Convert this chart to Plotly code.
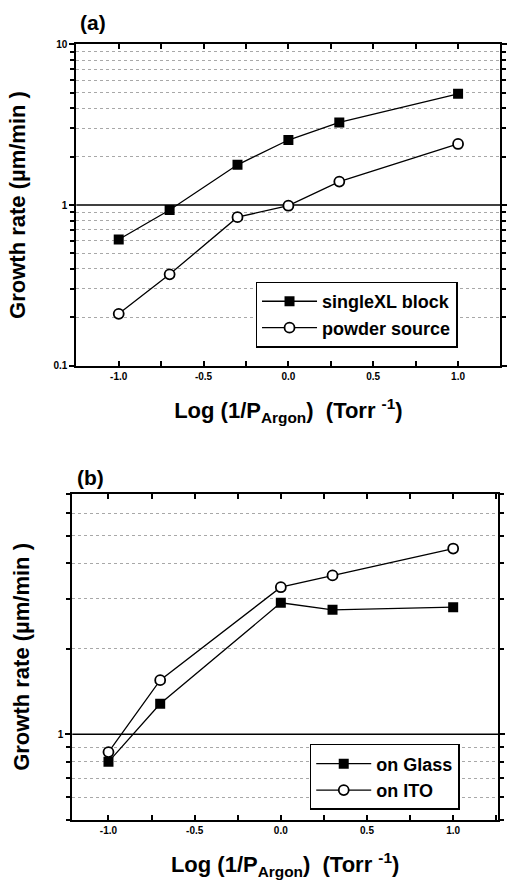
import plotly.graph_objects as go

# ---- data ----
x_a = [-1.0, -0.7, -0.3, 0.0, 0.3, 1.0]
single_xl = [0.61, 0.93, 1.78, 2.54, 3.27, 4.93]
powder = [0.21, 0.37, 0.84, 0.99, 1.40, 2.40]

x_b = [-1.0, -0.7, 0.0, 0.3, 1.0]
on_glass = [0.80, 1.28, 2.90, 2.74, 2.80]
on_ito = [0.866, 1.55, 3.29, 3.62, 4.50]

x_tickvals = [-1.0, -0.5, 0.0, 0.5, 1.0]
x_ticktext = ["-1.0", "-0.5", "0.0", "0.5", "1.0"]
x_minorvals = [-1.25, -0.75, -0.25, 0.25, 0.75, 1.25]

ya_tickvals = [0.1, 1, 10]
ya_ticktext = ["0.1", "1", "10"]
ya_minorvals = [0.2, 0.3, 0.4, 0.5, 0.6, 0.7, 0.8, 0.9,
                2, 3, 4, 5, 6, 7, 8, 9]

yb_tickvals = [1]
yb_ticktext = ["1"]
yb_minorvals = [0.5, 0.6, 0.7, 0.8, 0.9, 2, 3, 4, 5, 6, 7]

FONT = "Liberation Sans, Arial, sans-serif"

fig = go.Figure()

line_style = dict(color="black", width=1.3)

fig.add_trace(go.Scatter(x=x_a, y=single_xl, mode="lines+markers", name="<b>singleXL block</b>",
                         line=line_style,
                         marker=dict(symbol="square", size=10, color="black"),
                         xaxis="x", yaxis="y", legend="legend"))
fig.add_trace(go.Scatter(x=x_a, y=powder, mode="lines+markers", name="<b>powder source</b>",
                         line=line_style,
                         marker=dict(symbol="circle", size=10, color="white",
                                     line=dict(color="black", width=1.8)),
                         xaxis="x", yaxis="y", legend="legend"))
fig.add_trace(go.Scatter(x=x_b, y=on_glass, mode="lines+markers", name="<b>on Glass</b>",
                         line=line_style,
                         marker=dict(symbol="square", size=10, color="black"),
                         xaxis="x2", yaxis="y2", legend="legend2"))
fig.add_trace(go.Scatter(x=x_b, y=on_ito, mode="lines+markers", name="<b>on ITO</b>",
                         line=line_style,
                         marker=dict(symbol="circle", size=10, color="white",
                                     line=dict(color="black", width=1.8)),
                         xaxis="x2", yaxis="y2", legend="legend2"))

tickfont = dict(family=FONT, size=10, color="black", weight="bold")
title_font = dict(family=FONT, size=22, color="black")
xtitle = "<b>Log (1/P<sub>Argon</sub>)&nbsp;&nbsp;(Torr <sup>-1</sup>)</b>"
ytitle = "<b>Growth rate (µm/min )</b>"


def xcommon():
    return dict(showline=True, linecolor="black", linewidth=2, mirror="ticks",
                ticks="inside", ticklen=5, tickwidth=1.5, tickcolor="black",
                showgrid=False, zeroline=False,
                tickmode="array", tickvals=x_tickvals, ticktext=x_ticktext,
                minor=dict(tickmode="array", tickvals=x_minorvals, ticks="inside",
                           ticklen=5, tickwidth=1.5, tickcolor="black", showgrid=False),
                tickfont=tickfont,
                title=dict(text=xtitle, font=title_font, standoff=22))


def ycommon(major_vals, major_text, minor_vals):
    return dict(type="log", showline=True, linecolor="black", linewidth=2, mirror="ticks",
                ticks="outside", ticklen=5, tickwidth=1.5, tickcolor="black",
                showgrid=False, zeroline=False,
                tickmode="array", tickvals=major_vals, ticktext=major_text,
                minor=dict(tickmode="array", tickvals=minor_vals, ticks="outside",
                           ticklen=4, tickwidth=1.5, tickcolor="black",
                           showgrid=True, gridcolor="#a8a8a8", griddash="dot", gridwidth=1),
                tickfont=tickfont,
                title=dict(text=ytitle, font=title_font, standoff=22))


fig.update_layout(
    width=507, height=896,
    margin=dict(l=0, r=0, t=0, b=0),
    paper_bgcolor="white", plot_bgcolor="white",
    font=dict(family=FONT, color="black"),
    xaxis=dict(domain=[0.152, 0.997], range=[-1.25, 1.25], anchor="y", **xcommon()),
    yaxis=dict(domain=[0.5926, 0.9554], range=[-1, 1], anchor="x",
               **ycommon(ya_tickvals, ya_ticktext, ya_minorvals)),
    xaxis2=dict(domain=[0.144, 0.992], range=[-1.21, 1.26], anchor="y2", **xcommon()),
    yaxis2=dict(domain=[0.0792, 0.4475], range=[-0.30103, 0.845098], anchor="x2",
                **ycommon(yb_tickvals, yb_ticktext, yb_minorvals)),
    legend=dict(x=0.509, y=0.6875, xanchor="left", yanchor="top",
                bgcolor="white", bordercolor="black", borderwidth=1.5,
                font=dict(family=FONT, size=18, color="black"),
                itemwidth=55, tracegroupgap=0),
    legend2=dict(x=0.617, y=0.165, xanchor="left", yanchor="top",
                 bgcolor="white", bordercolor="black", borderwidth=1.5,
                 font=dict(family=FONT, size=18, color="black"),
                 itemwidth=55, tracegroupgap=0),
    showlegend=True,
)

# solid reference line at y = 1 in both panels
for yref, xref in (("y", "x domain"), ("y2", "x2 domain")):
    fig.add_shape(type="line", xref=xref, yref=yref, x0=0, x1=1, y0=1, y1=1,
                  line=dict(color="black", width=1.5), layer="below")

annos = [
    dict(text="<b>(a)</b>", x=0.185, y=0.98, font=dict(family=FONT, size=21, color="black")),
    dict(text="<b>(b)</b>", x=0.181, y=0.4665, font=dict(family=FONT, size=21, color="black")),
]
for a in annos:
    fig.add_annotation(xref="paper", yref="paper", showarrow=False,
                       xanchor="center", yanchor="middle", **a)

fig.write_html("out.html")
